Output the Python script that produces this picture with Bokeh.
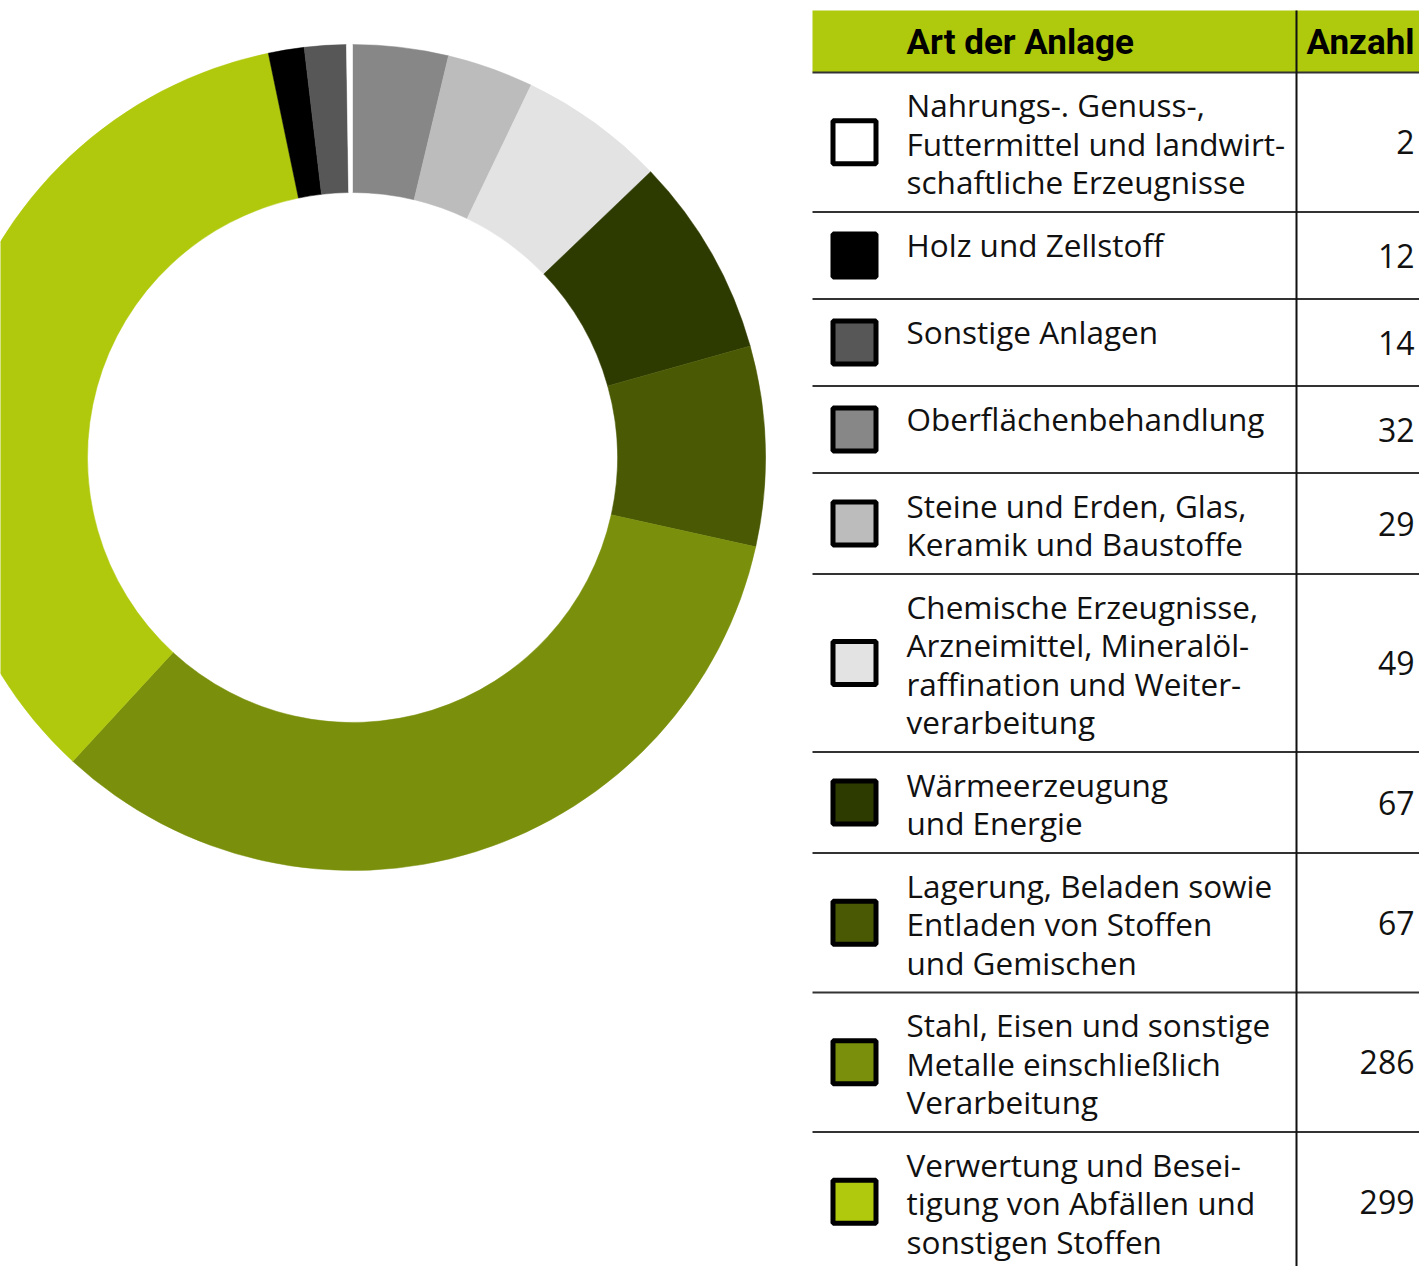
import math
from bokeh.plotting import figure
from bokeh.models import Range1d, ColumnDataSource
from bokeh.core.properties import value
from bokeh.embed import file_html
from bokeh.resources import INLINE

# ---------------- data ----------------
categories = [
    "Nahrungs-. Genuss-,\nFuttermittel und landwirt-\nschaftliche Erzeugnisse",
    "Holz und Zellstoff",
    "Sonstige Anlagen",
    "Oberflächenbehandlung",
    "Steine und Erden, Glas,\nKeramik und Baustoffe",
    "Chemische Erzeugnisse,\nArzneimittel, Mineralöl-\nraffination und Weiter-\nverarbeitung",
    "Wärmeerzeugung\nund Energie",
    "Lagerung, Beladen sowie\nEntladen von Stoffen\nund Gemischen",
    "Stahl, Eisen und sonstige\nMetalle einschließlich\nVerarbeitung",
    "Verwertung und Besei-\ntigung von Abfällen und\nsonstigen Stoffen",
]
counts = [2, 12, 14, 32, 29, 49, 67, 67, 286, 299]
colors = ["#ffffff", "#000000", "#575757", "#878787", "#bcbcbc",
          "#e3e3e3", "#2e3b00", "#4a5a04", "#7a8f0b", "#b0c90d"]
# clockwise drawing order of the donut, starting at 12 o'clock
donut_order = [3, 4, 5, 6, 7, 8, 9, 1, 2, 0]
header_left = "Art der Anlage"
header_right = "Anzahl"

# ---------------- layout ----------------
W, H = 1419, 1266
def Y(ypx):
    return H - ypx

p = figure(width=W, height=H, x_range=Range1d(0, W), y_range=Range1d(0, H),
           output_backend="svg", toolbar_location=None, min_border=0,
           background_fill_color="white", border_fill_color="white")
p.axis.visible = False
p.xgrid.visible = False
p.ygrid.visible = False
p.outline_line_color = None

FONT = "Open Sans"
HFONT = "Roboto"

# ---------------- donut ----------------
total = float(sum(counts))
cx, cy = 352, Y(457)
starts, ends, wcols = [], [], []
cum = 0.0
for i in donut_order:
    a0 = cum / total * 2 * math.pi
    cum += counts[i]
    a1 = cum / total * 2 * math.pi
    starts.append(math.pi / 2 - a1)
    ends.append(math.pi / 2 - a0)
    wcols.append(colors[i])
src = ColumnDataSource(dict(x=[cx] * len(starts), y=[cy] * len(starts),
                            s=starts, e=ends, c=wcols))
p.annular_wedge(x="x", y="y", inner_radius=265, outer_radius=413,
                start_angle="s", end_angle="e", fill_color="c",
                line_color="c", line_width=0.5, source=src)

# ---------------- table ----------------
x0, xdiv, x1 = 812, 1296, W
head_top, head_bot = 10, 72
line_h = 38.5

# header background
p.quad(left=[x0], right=[x1], top=[Y(head_top)], bottom=[Y(head_bot)],
       fill_color="#afc90d", line_color=None)
p.text(x=[906], y=[Y(42)], text=[header_left], text_font=value(HFONT),
       text_font_style="bold", text_font_size="35px", text_baseline="middle",
       text_align="left", text_color="#000000")
p.text(x=[1414], y=[Y(42)], text=[header_right], text_font=value(HFONT),
       text_font_style="bold", text_font_size="35px", text_baseline="middle",
       text_align="right", text_color="#000000")

rows_top = []
t = head_bot
for cat in categories:
    n = cat.count("\n") + 1
    h = max(87, 24 + line_h * n)
    rows_top.append(t)
    t += h

# separators
sep_y = [head_bot] + rows_top[1:]
p.segment(x0=[x0] * len(sep_y), x1=[x1] * len(sep_y),
          y0=[Y(v) for v in sep_y], y1=[Y(v) for v in sep_y],
          line_color="#333333", line_width=2)
p.segment(x0=[xdiv], x1=[xdiv], y0=[Y(head_top)], y1=[0],
          line_color="#111111", line_width=2)

for i, cat in enumerate(categories):
    top = rows_top[i]
    if i + 1 < len(rows_top):
        bot = rows_top[i + 1]
    else:
        n = cat.count("\n") + 1
        bot = top + max(87, 24 + line_h * n)
    mid = (top + bot) / 2.0
    lines = cat.split("\n")
    p.text(x=[906] * len(lines), y=[Y(top + 32 + line_h * k) for k in range(len(lines))],
           text=lines, text_font=value(FONT), text_font_size="31.5px",
           text_baseline="middle", text_align="left", text_color="#111111")
    p.text(x=[1414], y=[Y(mid)], text=[str(counts[i])], text_font=value(FONT),
           text_font_size="32px", text_baseline="middle", text_align="right",
           text_color="#111111")
    p.rect(x=[854], y=[Y(mid)], width=43, height=43, fill_color=colors[i],
           line_color="#000000", line_width=5)

open("out.html", "w").write(file_html(p, INLINE))
